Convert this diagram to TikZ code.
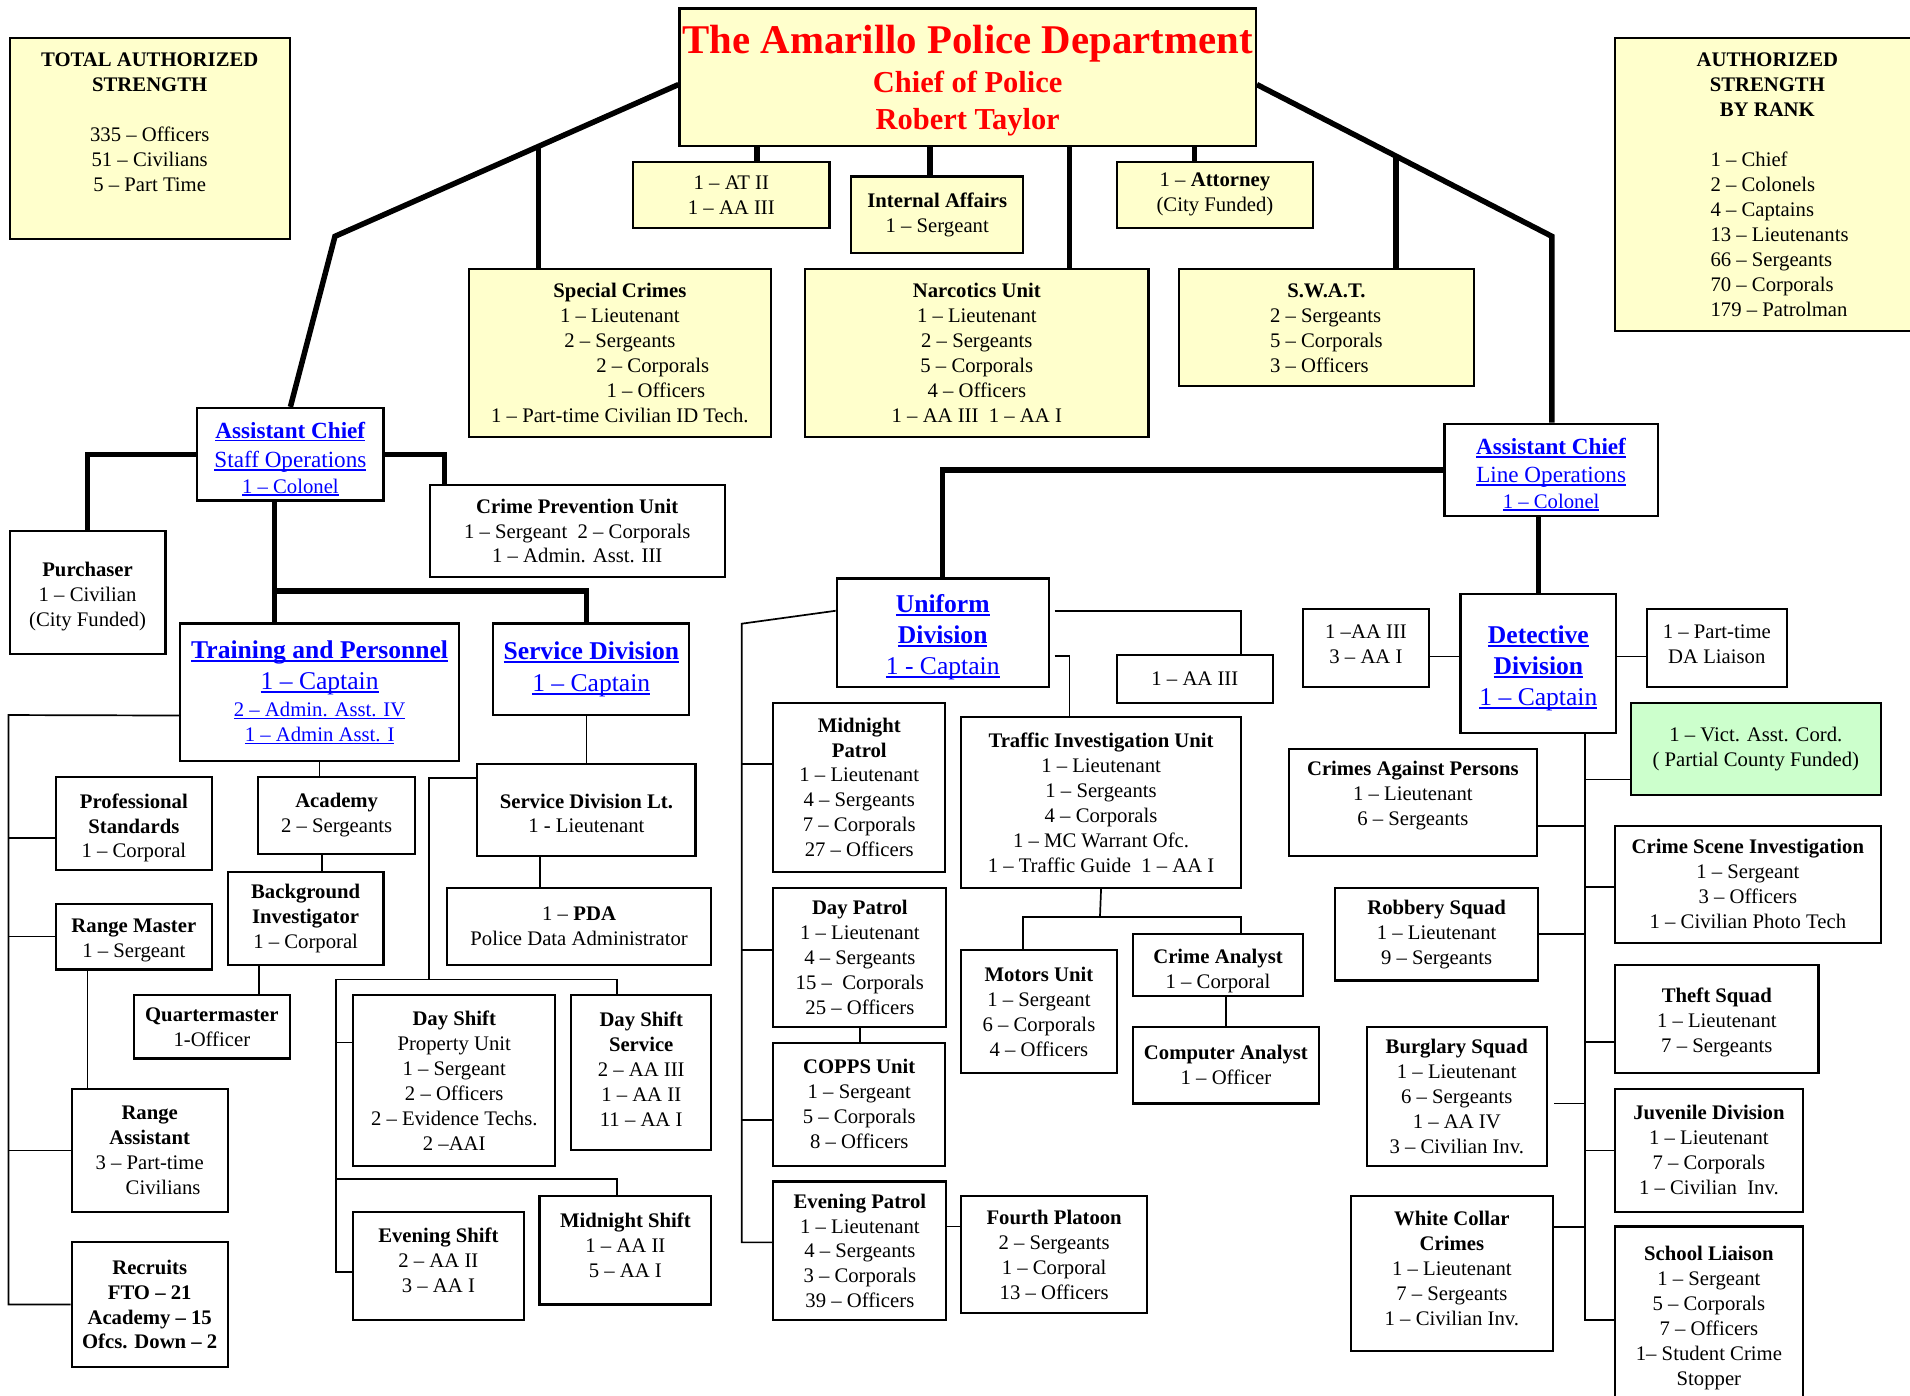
\documentclass[tikz,border=0pt]{standalone}
\usepackage{fontspec}
\setmainfont{Liberation Serif}
\usepackage{tikz}
\definecolor{boxyellow}{HTML}{FFFFCC}
\definecolor{boxgreen}{HTML}{CCFFCC}
\definecolor{linkblue}{HTML}{0000FF}
\definecolor{titlered}{HTML}{FF0000}
\newcommand{\blueul}[1]{\setbox0=\hbox{#1}\rlap{\rule[-0.13em]{\wd0}{0.075em}}\box0}
\newcommand{\bigul}[1]{{\fontsize{21}{20.5}\selectfont\blueul{#1}}}
\newcommand{\midul}[1]{{\fontsize{19}{20.5}\selectfont\blueul{#1}}}

\begin{document}
\begin{tikzpicture}[
    x=1pt, y=-1pt,
    box/.style={
        draw, line width=1.8pt, fill=white,
        inner sep=0pt, anchor=north west,
        align=center,
        font=\fontsize{17}{20.5}\selectfont
    },
    ybox/.style={box, fill=boxyellow},
    gbox/.style={box, fill=boxgreen},
    bluebox/.style={box, text=linkblue},
    wh/.style 2 args={minimum width=#1pt, minimum height=#2pt},
    trunk/.style={line width=4.5pt},
    twig/.style={line width=1.4pt}
]
\useasboundingbox (0,0) rectangle (1568,1146);

\node[ybox, wh={230}{165}] (tot) at (7,30) {\textbf{TOTAL AUTHORIZED}\\\textbf{STRENGTH}\\[20.5pt]335 – Officers\\51 – Civilians\\5 – Part Time\\[6pt]\mbox{}};
\node[ybox, wh={473}{113}, text=titlered, font=\fontsize{25}{31}\selectfont\bfseries] (chief) at (557,6) {\mbox{}\\[-1.8pt]{\fontsize{33.5}{31}\selectfont The Amarillo Police Department}\\[0.5pt]Chief of Police\\Robert Taylor};
\node[ybox, wh={250}{241}] (rank) at (1325,30) {\mbox{}\\[-3pt]\textbf{AUTHORIZED}\\\textbf{STRENGTH}\\\textbf{BY RANK}\\[21pt]\hspace*{20pt}\begin{tabular}[t]{@{}l@{}}1 – Chief\\2 – Colonels\\4 – Captains\\13 – Lieutenants\\66 – Sergeants\\70 – Corporals\\179 – Patrolman\end{tabular}};

\node[ybox, wh={161}{54}] (at) at (519,132) {1 – AT II\\1 – AA III};
\node[ybox, wh={141}{63}] (ia) at (698,144) {\textbf{Internal Affairs}\\1 – Sergeant};
\node[ybox, wh={161}{54}] (atty) at (916,132) {1 – \textbf{Attorney}\\(City Funded)};
\node[ybox, wh={248}{138}] (spc) at (384,220) {\textbf{Special Crimes}\\1 – Lieutenant\\2 – Sergeants\\\hspace*{54pt}2 – Corporals\\\hspace*{59pt}1 – Officers\\1 – Part-time Civilian ID Tech.};
\node[ybox, wh={282}{138}] (narc) at (660,220) {\textbf{Narcotics Unit}\\1 – Lieutenant\\2 – Sergeants\\5 – Corporals\\4 – Officers\\1 – AA III\ \ 1 – AA I};
\node[ybox, wh={242}{96}] (swat) at (967,220) {\mbox{}\\[-2pt]\textbf{S.W.A.T.}\\\begin{tabular}[t]{@{}l@{}}2 – Sergeants\\5 – Corporals\\3 – Officers\end{tabular}};

\node[bluebox, wh={153}{76}] (acs) at (161,334) {\mbox{}\\[0.5pt]\midul{\textbf{Assistant Chief}}\\[3.5pt]\midul{Staff Operations}\\[0.5pt]\blueul{1 – Colonel}};
\node[bluebox, wh={175}{76}] (acl) at (1185,347) {\mbox{}\\[0.5pt]\midul{\textbf{Assistant Chief}}\\[2.5pt]\midul{Line Operations}\\[0.5pt]\blueul{1 – Colonel}};

\node[box, wh={128}{101}] (purch) at (7,435) {\mbox{}\\[-2pt]\textbf{Purchaser}\\1 – Civilian\\(City Funded)};
\node[box, wh={242}{76}] (cpu) at (352,397) {\textbf{Crime Prevention Unit}\\1 – Sergeant\ \ 2 – Corporals\\1 – Admin. Asst. III};
\node[bluebox, wh={229}{113}] (trn) at (147,511) {\bigul{\textbf{Training and Personnel}}\\[5.5pt]\bigul{1 – Captain}\\[1.5pt]\blueul{2 – Admin. Asst. IV}\\\blueul{1 – Admin Asst. I}};
\node[bluebox, wh={161}{75}] (svc) at (404,511) {\bigul{\textbf{Service Division}}\\[5.5pt]\bigul{1 – Captain}};

\node[box, wh={128}{76}] (prof) at (45,637) {\mbox{}\\[-1pt]\textbf{Professional}\\\textbf{Standards}\\1 – Corporal};
\node[box, wh={129}{63}] (acad) at (211,637) {\textbf{Academy}\\2 – Sergeants};
\node[box, wh={128}{54}] (rngm) at (45,741) {\mbox{}\\[-3pt]\textbf{Range Master}\\1 – Sergeant};
\node[box, wh={128}{76}] (bkg) at (186,715) {\textbf{Background}\\\textbf{Investigator}\\1 – Corporal};
\node[box, wh={128}{52}] (qm) at (109,816) {\textbf{Quartermaster}\\1-Officer};
\node[box, wh={128}{101}] (rnga) at (58,893) {\textbf{Range}\\\textbf{Assistant}\\3 – Part-time\\\hspace*{22pt}Civilians};
\node[box, wh={128}{102}, font=\fontsize{17}{20.5}\selectfont\bfseries] (recr) at (58,1019) {Recruits\\FTO – 21\\Academy – 15\\Ofcs. Down – 2};

\node[box, wh={179}{76}] (svlt) at (391,626) {\mbox{}\\[-3pt]\textbf{Service Division Lt.}\\1 - Lieutenant};
\node[box, wh={217}{63}] (pda) at (366,728) {1 – \textbf{PDA}\\Police Data Administrator};
\node[box, wh={166}{140}] (dsp) at (289,816) {\textbf{Day Shift}\\Property Unit\\1 – Sergeant\\2 – Officers\\2 – Evidence Techs.\\2 –AAI};
\node[box, wh={115}{127}] (dss) at (468,816) {\textbf{Day Shift}\\\textbf{Service}\\2 – AA III\\1 – AA II\\11 – AA I\\[-14.5pt]\mbox{}};
\node[box, wh={140}{89}] (evs) at (289,994) {\textbf{Evening Shift}\\2 – AA II\\3 – AA I\\[-10.5pt]\mbox{}};
\node[box, wh={141}{89}] (mds) at (442,981) {\textbf{Midnight Shift}\\1 – AA II\\5 – AA I\\[-11.5pt]\mbox{}};

\node[bluebox, wh={174}{89}] (unif) at (686,474) {\mbox{}\\[2pt]\bigul{\textbf{Uniform}}\\[5pt]\bigul{\textbf{Division}}\\[5pt]\bigul{1 - Captain}};
\node[box, wh={128}{39}] (uaa) at (916,537) {1 – AA III};
\node[box, wh={141}{139}] (mnp) at (634,576) {\textbf{Midnight}\\\textbf{Patrol}\\1 – Lieutenant\\4 – Sergeants\\7 – Corporals\\27 – Officers};
\node[box, wh={230}{140}] (tiu) at (788,588) {\textbf{Traffic Investigation Unit}\\1 – Lieutenant\\1 – Sergeants\\4 – Corporals\\1 – MC Warrant Ofc.\\1 – Traffic Guide\ \ 1 – AA I};
\node[box, wh={142}{114}] (dyp) at (634,728) {\textbf{Day Patrol}\\1 – Lieutenant\\4 – Sergeants\\15 –\ \ Corporals\\25 – Officers};
\node[box, wh={141}{101}] (copps) at (634,855) {\textbf{COPPS Unit}\\1 – Sergeant\\5 – Corporals\\8 – Officers};
\node[box, wh={142}{114}] (evp) at (634,969) {\textbf{Evening Patrol}\\1 – Lieutenant\\4 – Sergeants\\3 – Corporals\\39 – Officers};
\node[box, wh={153}{96}] (fourth) at (788,981) {\textbf{Fourth Platoon}\\2 – Sergeants\\1 – Corporal\\13 – Officers};
\node[box, wh={128}{101}] (motors) at (788,779) {\textbf{Motors Unit}\\1 – Sergeant\\6 – Corporals\\4 – Officers};
\node[box, wh={140}{51}] (crana) at (929,766) {\mbox{}\\[1pt]\textbf{Crime Analyst}\\1 – Corporal};
\node[box, wh={153}{63}] (compa) at (929,842) {\textbf{Computer Analyst}\\1 – Officer};

\node[bluebox, wh={128}{114}] (det) at (1198,487) {\mbox{}\\[2pt]\bigul{\textbf{Detective}}\\[5pt]\bigul{\textbf{Division}}\\[5pt]\bigul{1 – Captain}};
\node[box, wh={103}{64}] (daa) at (1069,499) {1 –AA III\\3 – AA I\\[-14.5pt]\mbox{}};
\node[box, wh={115}{64}] (dal) at (1351,499) {1 – Part-time\\DA Liaison\\[-14.5pt]\mbox{}};
\node[gbox, wh={205}{76}] (vic) at (1338,576) {1 – Vict. Asst. Cord.\\( Partial County Funded)};
\node[box, wh={204}{88}] (cap) at (1057,614) {\textbf{Crimes Against Persons}\\1 – Lieutenant\\6 – Sergeants\\[-5pt]\mbox{}};
\node[box, wh={218}{96}] (csi) at (1325,677) {\textbf{Crime Scene Investigation}\\1 – Sergeant\\3 – Officers\\1 – Civilian Photo Tech};
\node[box, wh={167}{76}] (rob) at (1095,728) {\textbf{Robbery Squad}\\1 – Lieutenant\\9 – Sergeants};
\node[box, wh={167}{89}] (theft) at (1325,791) {\mbox{}\\[-3pt]\textbf{Theft Squad}\\1 – Lieutenant\\7 – Sergeants};
\node[box, wh={148}{114}] (burg) at (1121,842) {\textbf{Burglary Squad}\\1 – Lieutenant\\6 – Sergeants\\1 – AA IV\\3 – Civilian Inv.};
\node[box, wh={154}{101}] (juv) at (1325,893) {\textbf{Juvenile Division}\\1 – Lieutenant\\7 – Corporals\\1 – Civilian\ \ Inv.};
\node[box, wh={166}{127}] (wcc) at (1108,981) {\textbf{White Collar}\\\textbf{Crimes}\\1 – Lieutenant\\7 – Sergeants\\1 – Civilian Inv.\\[-12.5pt]\mbox{}};
\node[box, wh={154}{150}] (sch) at (1325,1006) {\textbf{School Liaison}\\1 – Sergeant\\5 – Corporals\\7 – Officers\\1– Student Crime\\Stopper};

\coordinate (lbend) at (275,194);
\coordinate (rbend) at (1274,194);
\coordinate (lsplit) at (442,120);
\coordinate (rsplit) at (1146,128);
\coordinate (sbr) at (224.5,485);
\draw[trunk] ([yshift=-6pt]chief.west) -- (lbend) -- (acs.north);
\draw[trunk] ([yshift=-6pt]chief.east) -- (rbend) -- (rbend |- acl.north);
\draw[trunk] (lsplit) -- (lsplit |- spc.north);
\draw[trunk] (rsplit) -- (rsplit |- swat.north);
\draw[trunk] ([xshift=21pt]at.north) -- ([xshift=21pt]at.north |- chief.south);
\draw[trunk] ([xshift=-6pt]ia.north) -- ([xshift=-6pt]ia.north |- chief.south);
\draw[trunk] ([xshift=76pt]narc.north) -- ([xshift=76pt]narc.north |- chief.south);
\draw[trunk] ([xshift=-17pt]atty.north) -- ([xshift=-17pt]atty.north |- chief.south);
\draw[trunk] (acs.west) -| (purch.north);
\draw[trunk] (acs.east) -| ([xshift=13pt]cpu.north west);
\draw[trunk] ([xshift=-13pt]acs.south) -- ([xshift=-13pt]acs.south |- trn.north);
\draw[trunk] (sbr) -| ([xshift=-4pt]svc.north);
\draw[trunk] (acl.west) -| (unif.north);
\draw[trunk] (det.north) -- (det.north |- acl.south);

\coordinate (ltrunk) at (7,587);
\draw[twig] ([yshift=-19pt]trn.west) -- (ltrunk) |- (recr.west);
\draw[twig] ([yshift=-12pt]prof.west) -- ([yshift=-12pt]prof.west -| ltrunk);
\draw[twig] (rngm.west) -- (rngm.west -| ltrunk);
\draw[twig] (rnga.west) -- (rnga.west -| ltrunk);
\draw[twig] (trn.south) -- (trn.south |- acad.north);
\draw[twig] ([xshift=-12pt]acad.south) -- ([xshift=-12pt]acad.south |- bkg.north);
\draw[twig] ([xshift=-38pt]bkg.south) -- ([xshift=-38pt]bkg.south |- qm.north);
\draw[twig] ([xshift=-38pt]rngm.south) -- ([xshift=-38pt]rngm.south |- rnga.north);

\coordinate (sj) at (352,804);
\coordinate (sl) at (276,804);
\coordinate (sm) at (276,968);
\draw[twig] (svlt.north) -- (svlt.north |- svc.south);
\draw[twig] ([xshift=-38pt]svlt.south) -- ([xshift=-38pt]svlt.south |- pda.north);
\draw[twig] ([yshift=26pt]svlt.west) -| (sj);
\draw[twig] (sl) -| ([xshift=-20pt]dss.north);
\draw[twig] (sl) |- ([yshift=-5pt]evs.west);
\draw[twig] ([yshift=31pt]dsp.west) -- ([yshift=31pt]dsp.west -| sl);
\draw[twig] (sm) -| ([xshift=-7pt]mds.north);

\coordinate (ut) at (609,512);
\coordinate (tj) at (903,753);
\draw[twig] ([yshift=18pt]unif.west) -- (ut) |- ([yshift=7pt]evp.west);
\draw[twig] ([yshift=19pt]mnp.west) -- ([yshift=19pt]mnp.west -| ut);
\draw[twig] ([yshift=6pt]dyp.west) -- ([yshift=6pt]dyp.west -| ut);
\draw[twig] ([yshift=-13pt]copps.west) -- ([yshift=-13pt]copps.west -| ut);
\draw[twig] (dyp.south) -- (dyp.south |- copps.north);
\draw[twig] ([yshift=20pt]evp.east) -- ([yshift=20pt]evp.east -| fourth.west);
\draw[twig] ([xshift=4pt,yshift=18pt]unif.east) -| ([xshift=38pt]uaa.north);
\draw[twig] ([xshift=4pt,yshift=-19pt]unif.east) -| ([xshift=-26pt]tiu.north);
\draw[twig] (tiu.south) -- (tj);
\draw[twig] (tj) -| ([xshift=-13pt]motors.north);
\draw[twig] (tj) -| ([xshift=19pt]crana.north);
\draw[twig] (compa.north) -- (compa.north |- crana.south);

\coordinate (dt) at ([xshift=38pt]det.south);
\draw[twig] ([yshift=6pt]det.west) -- ([yshift=6pt]det.west -| daa.east);
\draw[twig] ([yshift=6pt]det.east) -- ([yshift=6pt]det.east -| dal.west);
\draw[twig] (dt) |- ([yshift=-2pt]sch.west);
\draw[twig] ([yshift=-25pt]vic.west) -- ([yshift=-25pt]vic.west -| dt);
\draw[twig] ([yshift=-19pt]cap.east) -- ([yshift=-19pt]cap.east -| dt);
\draw[twig] ([yshift=-2pt]csi.west) -- ([yshift=-2pt]csi.west -| dt);
\draw[twig] (rob.east) -- (rob.east -| dt);
\draw[twig] ([yshift=-19pt]theft.west) -- ([yshift=-19pt]theft.west -| dt);
\draw[twig] ([xshift=5pt,yshift=-6pt]burg.east) -- ([yshift=-6pt]burg.east -| dt);
\draw[twig] (juv.west) -- (juv.west -| dt);
\draw[twig] ([yshift=38pt]wcc.east) -- ([yshift=38pt]wcc.east -| dt);
\end{tikzpicture}
\end{document}
